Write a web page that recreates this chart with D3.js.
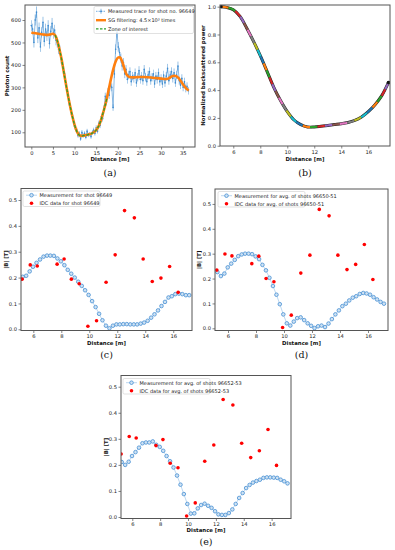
<!DOCTYPE html>
<html><head><meta charset="utf-8">
<script src="https://cdn.jsdelivr.net/npm/d3@7"></script>
<style>body{margin:0;background:#fff}svg{display:block}</style>
</head><body>
<svg id="fig" width="395" height="550"></svg>
<script>
// ---------- DATA ----------
// (a) measured photon-count trace, sampled every 0.3 m from 0 m
const traceStart = 0, traceStep = 0.3;
const traceCounts = [575,560,500,600,635,520,565,480,545,590,505,560,530,575,495,550,585,540,555,510,
  500,470,465,425,400,365,345,300,280,235,215,180,165,135,115,110,85,95,70,100,
  85,95,78,105,88,92,80,100,110,95,120,105,140,130,170,160,205,260,235,280,
  265,320,300,210,360,470,545,480,455,430,395,410,360,380,335,355,370,325,350,340,
  365,320,345,375,335,350,330,380,345,325,355,370,330,345,360,315,350,335,365,325,
  340,315,355,320,350,385,330,355,370,340,365,320,355,395,330,310,340,300,325,295,305,285];
// (a) SG-filtered curve
const sgDist  = [0,1,2,3,4,5,5.5,6,6.5,7,7.5,8,8.5,9,9.5,10,10.5,11,11.5,12,12.5,13,13.5,14,14.5,15,15.5,16,16.5,17,17.5,18,18.5,19,19.5,20,20.5,21,21.5,22,22.5,23,24,25,26,27,28,29,30,31,31.5,32,32.5,33,33.5,34,34.5,35,35.5,36,36.4];
const sgCounts= [543,541,538,535,534,539,532,508,470,425,370,315,262,214,170,133,105,89,84,85,87,89,92,95,101,110,125,148,180,215,255,300,345,385,415,432,433,415,385,358,348,345,345,346,346,345,343,341,339,337,338,343,349,352,350,342,330,315,302,292,287];
const zoneRange = [5.1, 17.5];
const aXTicks = [0,5,10,15,20,25,30,35];
const aYTicks = [100,200,300,400,500,600];

// (b) normalized backscattered power
const bDist  = [5.1,5.5,6,6.5,7,7.5,8,8.5,9,9.5,10,10.5,11,11.5,12,12.5,13,13.5,14,14.5,15,15.5,16,16.5,17,17.5];
const bPower = [1.0,0.995,0.978,0.93,0.845,0.75,0.648,0.535,0.42,0.325,0.245,0.185,0.152,0.135,0.135,0.14,0.146,0.152,0.158,0.167,0.182,0.207,0.245,0.295,0.36,0.455];
const bXTicks = [6,8,10,12,14,16];
const bYTicks = [0,0.2,0.4,0.6,0.8,1.0];

// (c)(d)(e) |B| profiles
const measDist = [5.24,5.49,5.74,5.98,6.23,6.48,6.73,6.98,7.22,7.47,7.72,7.97,8.22,8.46,8.71,8.96,9.21,9.46,9.70,9.95,
  10.20,10.45,10.70,10.94,11.19,11.44,11.69,11.94,12.18,12.43,12.68,12.93,13.18,13.42,13.67,13.92,14.17,14.42,14.66,14.91,
  15.16,15.41,15.66,15.90,16.15,16.40,16.65,16.90,17.14];
const measC = [0.203,0.207,0.224,0.242,0.257,0.27,0.281,0.285,0.285,0.284,0.274,0.263,0.248,0.23,0.215,0.2,0.184,0.168,0.151,0.133,
  0.109,0.086,0.06,0.035,0.014,0.004,0.014,0.019,0.019,0.02,0.02,0.019,0.019,0.019,0.022,0.026,0.033,0.045,0.058,0.073,
  0.09,0.106,0.123,0.128,0.136,0.138,0.136,0.132,0.132];
const measD = [0.226,0.21,0.22,0.245,0.26,0.275,0.29,0.297,0.30,0.30,0.298,0.289,0.278,0.255,0.233,0.203,0.17,0.135,0.097,0.056,
  0.02,0.011,0.027,0.041,0.044,0.033,0.02,0.01,0.001,0.008,0.011,0.005,0.019,0.037,0.056,0.072,0.089,0.099,0.112,0.123,
  0.129,0.138,0.142,0.14,0.135,0.125,0.116,0.106,0.099];
const measE = [0.211,0.2,0.212,0.234,0.249,0.266,0.283,0.286,0.286,0.29,0.277,0.269,0.254,0.234,0.214,0.19,0.159,0.124,0.088,0.05,
  0.013,0.014,0.033,0.046,0.051,0.043,0.035,0.022,0.01,0.008,0.008,0.015,0.029,0.05,0.073,0.092,0.111,0.123,0.132,0.138,
  0.143,0.15,0.152,0.152,0.151,0.15,0.143,0.137,0.129];
const idcDist = [5.2,5.78,6.28,7.7,8.2,8.72,9.28,9.9,10.52,11.2,11.85,12.52,13.22,13.85,14.5,15.12,15.74,16.35];
const idcC = [0.194,0.249,0.245,0.252,0.272,0.194,0.176,0.012,0.033,0.182,0.288,0.459,0.431,0.272,0.185,0.198,0.243,0.143];
const idcD = [0.234,0.299,0.291,0.26,0.29,0.2,0.187,0.003,0.053,0.222,0.294,0.478,0.452,0.294,0.236,0.257,0.337,0.196];
const idcE = [0.242,0.309,0.303,0.274,0.297,0.206,0.189,0.004,0.054,0.214,0.276,0.451,0.43,0.283,0.228,0.254,0.336,0.198];
const bfXTicks = [6,8,10,12,14,16];
const bfYTicks = [0,0.1,0.2,0.3,0.4,0.5];

const labels = {
  a: ["Measured trace for shot no. 96649","SG filtering: 4.5\u00d710\u00b3 times","Zone of interest"],
  c: ["Measurement for shot 96649","IDC data for shot 96649"],
  d: ["Measurement for avg. of shots 96650-51","IDC data for avg. of shots 96650-51"],
  e: ["Measurement for avg. of shots 96652-53","IDC data for avg. of shots 96652-53"]
};
const tab10 = ["#1f77b4","#ff7f0e","#2ca02c","#d62728","#9467bd","#8c564b","#e377c2","#7f7f7f","#bcbd22","#17becf"];

// ---------- DRAWING ----------
const svg = d3.select('#fig');
svg.append('rect').attr('width',395).attr('height',550).attr('fill','#fff');
const FONT = "'DejaVu Sans', sans-serif";
let clipN = 0;

function panel(box, xDom, yDom, xTicks, yTicks, yFmt, xLab, yLab, yLabX, cap, capY, xLabY) {
  const g = svg.append('g');
  const x = d3.scaleLinear().domain(xDom).range([box.l, box.r]);
  const y = d3.scaleLinear().domain(yDom).range([box.b, box.t]);
  const id = 'clip' + (clipN++);
  svg.append('defs').append('clipPath').attr('id', id)
    .append('rect').attr('x', box.l).attr('y', box.t).attr('width', box.r - box.l).attr('height', box.b - box.t);
  const ax = g.append('g').attr('transform', `translate(0,${box.b})`)
    .call(d3.axisBottom(x).tickValues(xTicks).tickSize(2.5).tickPadding(1.5).tickFormat(d3.format('d')));
  const ay = g.append('g').attr('transform', `translate(${box.l},0)`)
    .call(d3.axisLeft(y).tickValues(yTicks).tickSize(2.5).tickPadding(1.5).tickFormat(yFmt));
  [ax, ay].forEach(a => {
    a.select('.domain').remove();
    a.selectAll('line').attr('stroke', '#333').attr('stroke-width', 0.6);
    a.selectAll('text').attr('font-family', FONT).attr('font-size', 5.2).attr('fill', '#222');
  });
  const plot = g.append('g').attr('clip-path', `url(#${id})`);
  const cx = (box.l + box.r) / 2, cy = (box.t + box.b) / 2;
  g.append('text').attr('x', cx).attr('y', xLabY).attr('text-anchor', 'middle')
    .attr('font-family', FONT).attr('font-size', 5.4).attr('font-weight', 'bold').attr('fill', '#111').text(xLab);
  g.append('text').attr('transform', `translate(${yLabX},${cy}) rotate(-90)`).attr('text-anchor', 'middle')
    .attr('font-family', FONT).attr('font-size', 5.4).attr('font-weight', 'bold').attr('fill', '#111').text(yLab);
  g.append('text').attr('x', cx).attr('y', capY).attr('text-anchor', 'middle')
    .attr('font-family', "'DejaVu Serif', 'Liberation Serif', serif").attr('font-size', 9.5).attr('fill', '#111').text(cap);
  const frame = () => g.append('rect').attr('x', box.l).attr('y', box.t).attr('width', box.r - box.l).attr('height', box.b - box.t)
    .attr('fill', 'none').attr('stroke', '#555').attr('stroke-width', 1);
  return { g, x, y, plot, frame };
}

// ----- (a) -----
{
  const P = panel({l:25,t:5,r:195,b:147}, [-1.46,37.84], [34.5,666.8], aXTicks, aYTicks, d3.format('d'),
    'Distance [m]', 'Photon count', 9, '(a)', 175.5, 161);
  const pts = traceCounts.map((c, i) => ({d: traceStart + i * traceStep, c}));
  const blue = '#3d8bd0';
  P.plot.append('g').selectAll('line').data(pts).join('line')
    .attr('x1', p => P.x(p.d)).attr('x2', p => P.x(p.d))
    .attr('y1', p => P.y(p.c - Math.sqrt(p.c))).attr('y2', p => P.y(p.c + Math.sqrt(p.c)))
    .attr('stroke', blue).attr('stroke-width', 0.6).attr('opacity', 0.85);
  P.plot.append('path').datum(pts).attr('fill', 'none').attr('stroke', blue).attr('stroke-width', 0.7).attr('opacity', 0.85)
    .attr('d', d3.line().x(p => P.x(p.d)).y(p => P.y(p.c)));
  P.plot.append('g').selectAll('circle').data(pts).join('circle')
    .attr('cx', p => P.x(p.d)).attr('cy', p => P.y(p.c)).attr('r', 0.8).attr('fill', blue);
  const sg = sgDist.map((d, i) => ({d, c: sgCounts[i]}));
  const ln = d3.line().x(p => P.x(p.d)).y(p => P.y(p.c)).curve(d3.curveCatmullRom);
  P.plot.append('path').datum(sg).attr('fill', 'none').attr('stroke', '#ff7f0e').attr('stroke-width', 2.6).attr('d', ln);
  const zone = sg.filter(p => p.d >= zoneRange[0] && p.d <= zoneRange[1]);
  P.plot.append('path').datum(zone).attr('fill', 'none').attr('stroke', '#2ca02c').attr('stroke-width', 1.3)
    .attr('stroke-dasharray', '3,1.6').attr('d', ln);
  P.frame();
  // legend
  const L = P.g.append('g');
  L.append('rect').attr('x', 94).attr('y', 6.5).attr('width', 99.5).attr('height', 27).attr('rx', 1.5)
    .attr('fill', '#fff').attr('fill-opacity', 0.85).attr('stroke', '#ccc').attr('stroke-width', 0.6);
  const rows = [11.3, 20.2, 28.9];
  L.append('line').attr('x1', 96).attr('x2', 106).attr('y1', rows[0]).attr('y2', rows[0])
    .attr('stroke', blue).attr('stroke-width', 0.7).attr('stroke-dasharray', '1.5,1');
  L.append('line').attr('x1', 101).attr('x2', 101).attr('y1', rows[0] - 2.5).attr('y2', rows[0] + 2.5).attr('stroke', blue).attr('stroke-width', 0.6);
  L.append('circle').attr('cx', 101).attr('cy', rows[0]).attr('r', 0.9).attr('fill', blue);
  L.append('line').attr('x1', 96).attr('x2', 106).attr('y1', rows[1]).attr('y2', rows[1]).attr('stroke', '#ff7f0e').attr('stroke-width', 2.4);
  L.append('line').attr('x1', 96).attr('x2', 106).attr('y1', rows[2]).attr('y2', rows[2]).attr('stroke', '#2ca02c')
    .attr('stroke-width', 1.2).attr('stroke-dasharray', '2.5,1.5');
  labels.a.forEach((t, i) => L.append('text').attr('x', 108).attr('y', rows[i] + 1.8)
    .attr('font-family', FONT).attr('font-size', 5).attr('fill', '#222').text(t));
}

// ----- (b) -----
{
  const P = panel({l:220,t:5,r:390,b:146}, [5.015,17.61], [-0.002,1.012], bXTicks, bYTicks, d3.format('.1f'),
    'Distance [m]', 'Normalized backscattered power', 205, '(b)', 175.5, 161);
  const pts = bDist.map((d, i) => [P.x(d), P.y(bPower[i])]);
  const ln = d3.line().curve(d3.curveCatmullRom);
  P.plot.append('path').attr('d', ln(pts)).attr('fill', 'none').attr('stroke', '#222').attr('stroke-width', 3.0).attr('stroke-linecap', 'round');
  const tmp = P.plot.append('path').attr('d', ln(pts)).attr('fill', 'none').attr('stroke', 'none');
  const node = tmp.node(), len = node.getTotalLength();
  const nSeg = 34;
  for (let s = 0; s < nSeg; s++) {
    const seg = [];
    for (let k = 0; k <= 6; k++) {
      const p = node.getPointAtLength(len * (s + k / 6) / nSeg);
      seg.push([p.x, p.y]);
    }
    P.plot.append('path').attr('d', d3.line()(seg)).attr('fill', 'none').attr('stroke', tab10[(s + 1) % 10])
      .attr('stroke-width', 2.1);
  }
  tmp.remove();
  P.plot.append('circle').attr('cx', pts[pts.length - 1][0]).attr('cy', pts[pts.length - 1][1]).attr('r', 1.8).attr('fill', '#111');
  P.plot.append('circle').attr('cx', pts[0][0]).attr('cy', pts[0][1]).attr('r', 1.6).attr('fill', '#111');
  P.frame();
}

// ----- (c)(d)(e) -----
function bPanel(box, xDom, yDom, meas, idc, lab, yLabX, cap, capY, xLabY, leg) {
  const P = panel(box, xDom, yDom, bfXTicks, bfYTicks, d3.format('.1f'), 'Distance [m]', '|B| [T]', yLabX, cap, capY, xLabY);
  const pts = measDist.map((d, i) => [P.x(d), P.y(meas[i])]);
  P.plot.append('path').attr('d', d3.line()(pts)).attr('fill', 'none').attr('stroke', '#8fbce6').attr('stroke-width', 0.6);
  P.plot.append('g').selectAll('circle').data(pts).join('circle')
    .attr('cx', p => p[0]).attr('cy', p => p[1]).attr('r', 1.8)
    .attr('fill', '#cfe2f3').attr('stroke', '#4f95d6').attr('stroke-width', 0.85);
  P.plot.append('g').selectAll('circle').data(idcDist).join('circle')
    .attr('cx', d => P.x(d)).attr('cy', (d, i) => P.y(idc[i])).attr('r', 1.8).attr('fill', '#f00');
  P.frame();
  const L = P.g.append('g');
  L.append('rect').attr('x', leg.x).attr('y', leg.y).attr('width', leg.w).attr('height', 15.5).attr('rx', 1.5)
    .attr('fill', '#fff').attr('fill-opacity', 0.85).attr('stroke', '#ccc').attr('stroke-width', 0.6);
  const r1 = leg.y + 4.2, r2 = leg.y + 12.2;
  L.append('line').attr('x1', leg.x + 3).attr('x2', leg.x + 14).attr('y1', r1).attr('y2', r1).attr('stroke', '#8fbce6').attr('stroke-width', 0.6);
  L.append('circle').attr('cx', leg.x + 8.5).attr('cy', r1).attr('r', 1.8).attr('fill', '#cfe2f3').attr('stroke', '#4f95d6').attr('stroke-width', 0.85);
  L.append('circle').attr('cx', leg.x + 8.5).attr('cy', r2).attr('r', 1.8).attr('fill', '#f00');
  lab.forEach((t, i) => L.append('text').attr('x', leg.x + 16.5).attr('y', (i ? r2 : r1) + 1.8)
    .attr('font-family', FONT).attr('font-size', 5).attr('fill', '#222').text(t));
}
bPanel({l:21,t:188.5,r:192,b:330.5}, [5.12,17.34], [-0.0046,0.5445], measC, idcC, labels.c, 8, '(c)', 357.5, 345, {x:23, y:191, w:77});
bPanel({l:215,t:189,r:388,b:330.5}, [5.07,17.43], [-0.0088,0.560], measD, idcD, labels.d, 201, '(d)', 357.5, 345, {x:218, y:191.5, w:87});
bPanel({l:121,t:375.5,r:291,b:518.5}, [5.19,17.39], [-0.0058,0.543], measE, idcE, labels.e, 108, '(e)', 545, 532, {x:123, y:378.5, w:87});
</script>
</body></html>
